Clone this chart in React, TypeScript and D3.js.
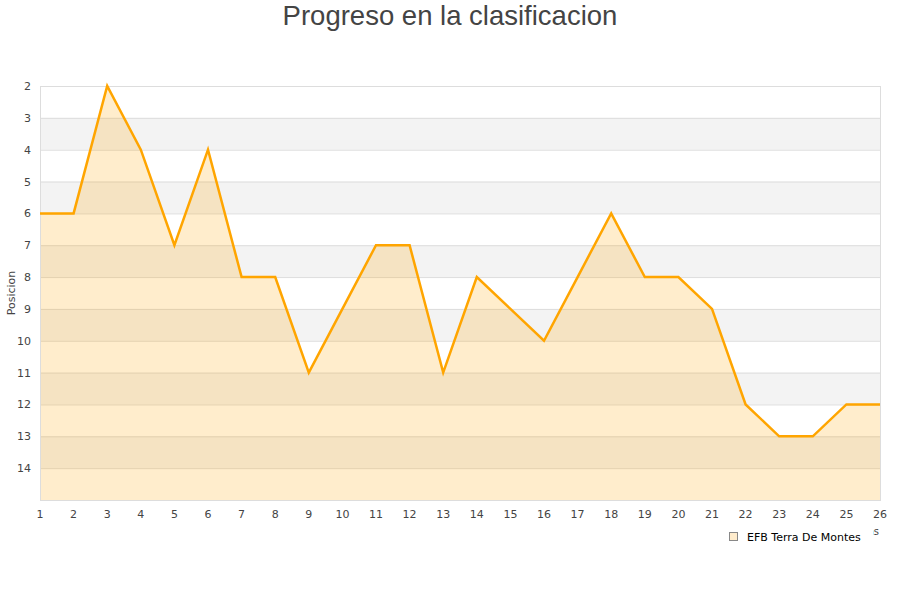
import React, { useRef, useEffect } from "react"
import * as d3 from "d3"

const rounds = d3.range(1, 27)
const positions = [6, 6, 2, 4, 7, 4, 8, 8, 11, 9, 7, 7, 11, 8, 9, 10, 8, 6, 8, 8, 9, 12, 13, 13, 12, 12]
const yTicks = d3.range(2, 15)
const teamName = "EFB Terra De Montes"

const W = 900
const H = 600

const App: React.FC = () => {
  const svgRef = useRef<SVGSVGElement | null>(null)

  useEffect(() => {
    if (!svgRef.current) return
    const svg = d3.select(svgRef.current)
    svg.selectAll("*").remove()

    const margin = { top: 86, right: 20, bottom: 100, left: 40 }
    const x = d3.scaleLinear().domain([1, 26]).range([margin.left, W - margin.right])
    const y = d3.scaleLinear().domain([2, 15]).range([margin.top, H - margin.bottom])
    const font = "'DejaVu Sans', sans-serif"

    svg.append("rect").attr("width", W).attr("height", H).attr("fill", "#fff")

    // title
    svg.append("text")
      .attr("x", W / 2).attr("y", 25)
      .attr("text-anchor", "middle")
      .attr("font-family", "'Liberation Sans', Arial, sans-serif")
      .attr("font-size", 27.5).attr("fill", "#444")
      .text("Progreso en la clasificacion")

    // alternating bands
    const bands = yTicks.filter((t) => t % 2 === 1)
    svg.append("g").selectAll("rect").data(bands).enter().append("rect")
      .attr("x", x(1)).attr("width", x(26) - x(1))
      .attr("y", (d) => y(d)).attr("height", (d) => y(d + 1) - y(d))
      .attr("fill", "#f3f3f3")

    // grid
    svg.append("g").selectAll("line").data(yTicks).enter().append("line")
      .attr("x1", x(1)).attr("x2", x(26))
      .attr("y1", (d) => y(d) + 0.5).attr("y2", (d) => y(d) + 0.5)
      .attr("stroke", "#dddddd")

    // area + line
    const pts = rounds.map((r, i) => [r, positions[i]] as [number, number])
    const area = d3.area<[number, number]>()
      .x((d) => x(d[0])).y0(y(15)).y1((d) => y(d[1]))
    svg.append("path").attr("d", area(pts)).attr("fill", "rgba(255,165,0,0.2)")

    // frame
    svg.append("rect")
      .attr("x", x(1) + 0.5).attr("y", y(2) + 0.5)
      .attr("width", x(26) - x(1)).attr("height", y(15) - y(2))
      .attr("fill", "none").attr("stroke", "#dddddd")

    const line = d3.line<[number, number]>().x((d) => x(d[0])).y((d) => y(d[1]))
    svg.append("path").attr("d", line(pts))
      .attr("fill", "none").attr("stroke", "#ffa500").attr("stroke-width", 2.5)

    // y ticks
    svg.append("g").selectAll("text").data(yTicks).enter().append("text")
      .attr("x", 31).attr("y", (d) => y(d) + 4)
      .attr("text-anchor", "end")
      .attr("font-family", font).attr("font-size", 11).attr("fill", "#444")
      .text((d) => d)

    // x ticks
    svg.append("g").selectAll("text").data(rounds).enter().append("text")
      .attr("x", (d) => x(d)).attr("y", 518)
      .attr("text-anchor", "middle")
      .attr("font-family", font).attr("font-size", 11).attr("fill", "#444")
      .text((d) => d)

    // y axis title
    svg.append("text")
      .attr("transform", `translate(15,${(y(2) + y(15)) / 2}) rotate(-90)`)
      .attr("text-anchor", "middle")
      .attr("font-family", font).attr("font-size", 11).attr("fill", "#444")
      .text("Posicion")

    // x axis title (mostly hidden by the legend)
    svg.append("text")
      .attr("x", 879).attr("y", 535)
      .attr("text-anchor", "end")
      .attr("font-family", font).attr("font-size", 10).attr("fill", "#444")
      .text("Jornadas")

    // legend
    const lg = svg.append("g")
    lg.append("rect").attr("x", 722).attr("y", 526).attr("width", 151).attr("height", 22).attr("fill", "#fff")
    lg.append("rect").attr("x", 729.5).attr("y", 532.5).attr("width", 8).attr("height", 8)
      .attr("fill", "#ffeccc").attr("stroke", "#888")
    lg.append("text").attr("x", 747).attr("y", 541)
      .attr("font-family", font).attr("font-size", 11).attr("fill", "#000")
      .text(teamName)
  }, [])

  return (
    <svg
      ref={svgRef}
      width={W}
      height={H}
      style={{ display: "block", position: "absolute", top: 0, left: 0 }}
    ></svg>
  )
}

export default App
